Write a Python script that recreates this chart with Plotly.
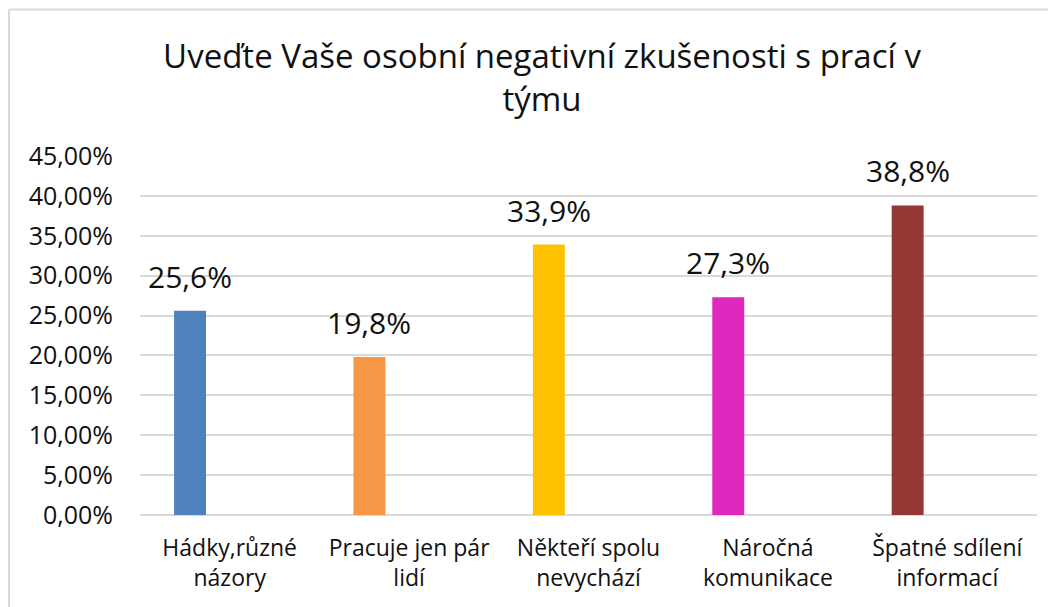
import plotly.graph_objects as go

categories = ["Hádky,různé<br>názory", "Pracuje jen pár<br>lidí", "Někteří spolu<br>nevychází",
              "Náročná<br>komunikace", "Špatné sdílení<br>informací"]
values = [0.256, 0.198, 0.339, 0.273, 0.388]
colors = ["#4F81BD", "#F79646", "#FFC000", "#DE28BE", "#953735"]
title_text = "Uveďte Vaše osobní negativní zkušenosti s prací v<br>týmu"

BAR_W = 0.178
BAR_OFF = -0.31
FONT = "Open Sans"
TXT = "#111111"

fig = go.Figure()
fig.add_trace(go.Bar(
    x=categories, y=values, marker=dict(color=colors, line=dict(width=0)),
    width=BAR_W, offset=BAR_OFF, showlegend=False, hoverinfo="skip",
))

for i, v in enumerate(values):
    fig.add_annotation(
        x=i + BAR_OFF + BAR_W / 2, y=v, xref="x", yref="y",
        text=f"{v*100:.1f}%".replace(".", ","), showarrow=False,
        yanchor="bottom", yshift=12, font=dict(family=FONT, size=30, color=TXT),
    )

# page has an 8px body margin, so figure coords = window coords - 8
W, H = 1048, 599
L, R, T, B = 132, 19, 148, 92
pw, ph = W - L - R, H - T - B
bx = (1 - L) / pw
by = 1 + (T - 1.5) / ph
fig.add_shape(type="line", xref="paper", yref="paper", x0=bx, x1=bx, y0=by, y1=-(B + 5) / ph,
              line=dict(color="#d9d9d9", width=2))
fig.add_shape(type="line", xref="paper", yref="paper", x0=bx, x1=1 + (R + 5) / pw, y0=by, y1=by,
              line=dict(color="#d9d9d9", width=2))

fig.update_layout(
    width=W, height=H,
    margin=dict(l=L, r=R, t=T, b=B),
    paper_bgcolor="white", plot_bgcolor="white",
    separators=",.",
    font=dict(family=FONT, color=TXT),
    title=dict(text=title_text, x=534 / W, xanchor="center", xref="container",
               y=1 - 60 / H, yanchor="top", yref="container",
               font=dict(family=FONT, size=33, color=TXT)),
    xaxis=dict(type="category", showgrid=False, showline=False, zeroline=False,
               tickfont=dict(family=FONT, size=23, color=TXT), ticks="",
               ticklabelstandoff=17, range=[-0.5, len(categories) - 0.5]),
    yaxis=dict(range=[0, 0.45], dtick=0.05, tick0=0, tickformat=".2%",
               showgrid=True, gridcolor="#d9d9d9", gridwidth=2,
               zeroline=True, zerolinecolor="#d9d9d9", zerolinewidth=2,
               showline=False, ticks="", ticklabelstandoff=26,
               tickfont=dict(family=FONT, size=25, color=TXT)),
)

fig.write_html("out.html")
